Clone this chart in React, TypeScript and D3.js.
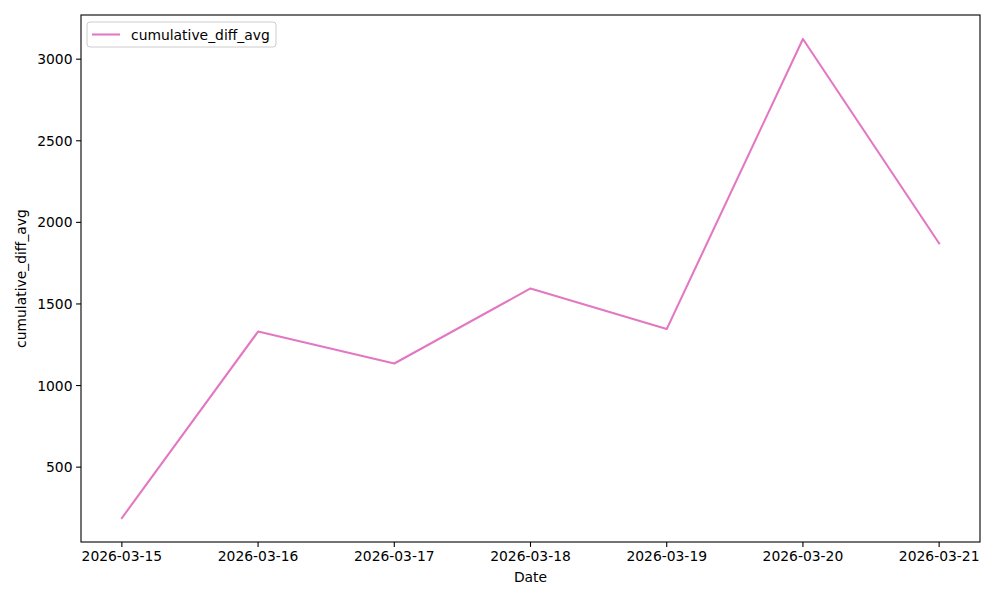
import React from "react";
import * as d3 from "d3";

const dates = ["2026-03-15", "2026-03-16", "2026-03-17", "2026-03-18", "2026-03-19", "2026-03-20", "2026-03-21"];
const values = [188, 1331, 1135, 1595, 1346, 3124, 1871];
const yTicks = [500, 1000, 1500, 2000, 2500, 3000];
const seriesName = "cumulative_diff_avg";

const W = 1000, H = 600;
const L = 81, R = 980, T = 15, B = 542;
const FONT = "DejaVu Sans, sans-serif";
const FS = 13.89;

export default function App() {
  const parse = d3.utcParse("%Y-%m-%d");
  const ds = dates.map((d) => parse(d) as Date);
  const x0 = ds[0].getTime(), x1 = ds[ds.length - 1].getTime();
  const xpad = (x1 - x0) * 0.05;
  const x = d3.scaleUtc().domain([new Date(x0 - xpad), new Date(x1 + xpad)]).range([L, R]);
  const vmin = d3.min(values)!, vmax = d3.max(values)!;
  const ypad = (vmax - vmin) * 0.05;
  const y = d3.scaleLinear().domain([vmin - ypad, vmax + ypad]).range([B, T]);
  const line = d3.line<number>().x((_, i) => x(ds[i])).y((v) => y(v));
  const fmt = d3.utcFormat("%Y-%m-%d");
  return (
    <svg width={W} height={H} style={{ position: "absolute", left: 0, top: 0, background: "#fff" }} fontFamily={FONT}>
      <rect x={0} y={0} width={W} height={H} fill="#fff" />
      <path d={line(values) || ""} fill="none" stroke="#e377c2" strokeWidth={2.08} strokeLinejoin="round" strokeLinecap="square" />
      <rect x={L} y={T} width={R - L} height={B - T} fill="none" stroke="#000" strokeWidth={1.1} />
      {ds.map((d, i) => (
        <g key={i} transform={`translate(${x(d)},${B})`}>
          <line y1={0} y2={4.9} stroke="#000" strokeWidth={1.1} />
          <text y={13.5} textAnchor="middle" fontSize={FS} dominantBaseline="central" fill="#000">{fmt(d)}</text>
        </g>
      ))}
      {yTicks.map((t) => (
        <g key={t} transform={`translate(${L},${y(t)})`}>
          <line x1={0} x2={-4.9} stroke="#000" strokeWidth={1.1} />
          <text x={-8.5} textAnchor="end" dominantBaseline="central" fontSize={FS} fill="#000">{t}</text>
        </g>
      ))}
      <text x={(L + R) / 2} y={577} textAnchor="middle" dominantBaseline="central" fontSize={FS}>Date</text>
      <text transform={`translate(21,${(T + B) / 2}) rotate(-90)`} textAnchor="middle" dominantBaseline="central" fontSize={FS}>{seriesName}</text>
      <g transform={`translate(87,22)`}>
        <rect x={0} y={0} width={189} height={25} rx={3} fill="#fff" fillOpacity={0.8} stroke="#ccc" strokeWidth={1} />
        <line x1={5} x2={33} y1={12.5} y2={12.5} stroke="#e377c2" strokeWidth={2.08} />
        <text x={44} y={12.5} dominantBaseline="central" fontSize={FS}>{seriesName}</text>
      </g>
    </svg>
  );
}
